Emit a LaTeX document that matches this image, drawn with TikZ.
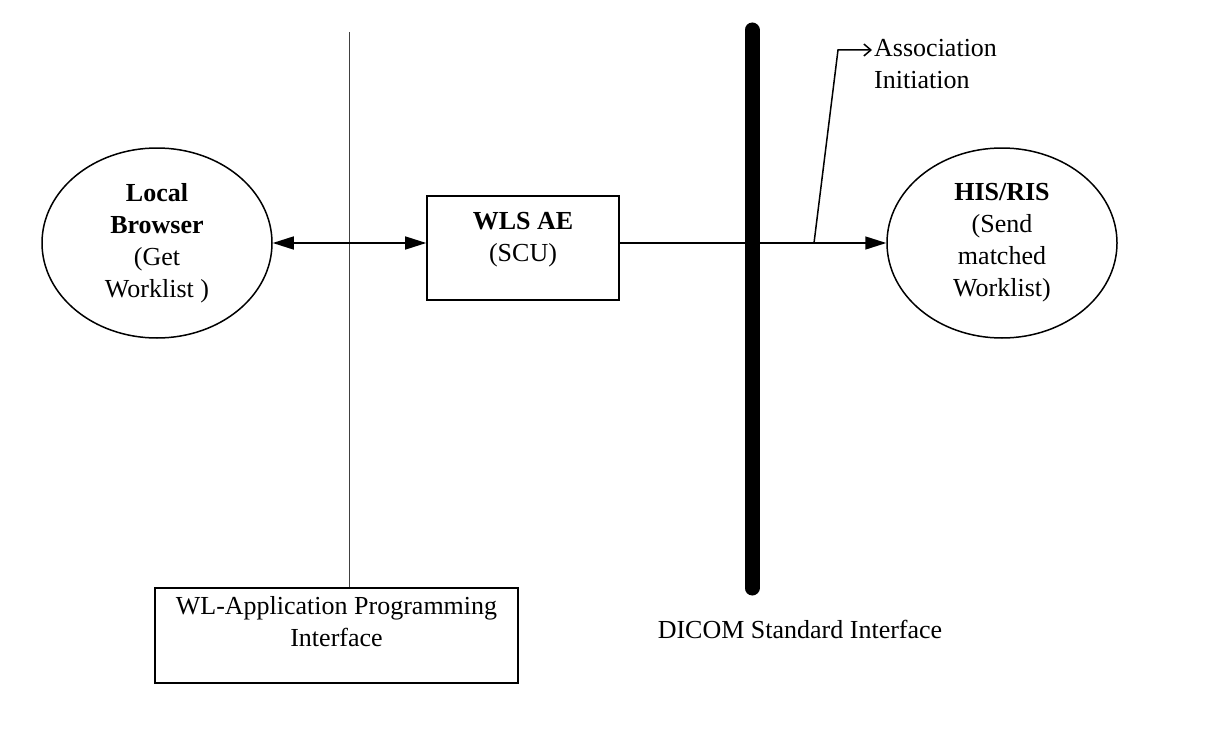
\documentclass[tikz,border=0pt]{standalone}
\usepackage{fontspec}
\setmainfont{Liberation Serif}
\usetikzlibrary{shapes.geometric,arrows.meta}
\begin{document}
\begin{tikzpicture}[x=1pt,y=-1pt,
  every node/.style={font=\fontsize{26}{32}\selectfont, inner sep=0pt},
  oval/.style={draw, line width=1.5pt, ellipse, minimum width=230pt, minimum height=190pt, align=center},
  boxshape/.style={draw, line width=1.6pt, rectangle},
  txt/.style={align=center},
  conn/.style={line width=1.5pt},
  tri/.style={-{Triangle[length=21pt,width=13pt]}},
  bitri/.style={{Triangle[length=21pt,width=13pt]}-{Triangle[length=21pt,width=13pt]}}
]
\useasboundingbox (0,0) rectangle (1222,733);

% thick DICOM interface bar
\coordinate (dtop) at (752,30);
\coordinate (dbot) at (752,588);
\draw[line width=15pt, line cap=round] (dtop) -- (dbot);

% nodes
\node[oval] (lb) at (157,243) {\textbf{Local}\\\textbf{Browser}\\(Get\\Worklist )};
\node[oval] (his) at (1002,243) {\textbf{HIS/RIS}\\(Send\\matched\\Worklist)};
\node[boxshape, minimum width=192pt, minimum height=104pt] (wls) at (523,248) {};
\node[txt] (wlst) at (523,240) {\textbf{WLS AE}\\(SCU)};
\node[boxshape, minimum width=363pt, minimum height=95pt] (api) at (336.5,635.5) {};
\node[txt] (apit) at (336.5,622) {WL-Application Programming\\Interface};
\node[anchor=base] (dicom) at (800,638) {DICOM Standard Interface};
\node[anchor=north west, align=left] (assoc) at (874,39.5) {Association\\Initiation};

% API separation line
\coordinate (apitop) at (349,32);
\draw[line width=0.8pt, black!75] (apitop) -- (apitop |- api.north);

% connectors
\draw[conn, bitri] (lb.east) -- (wls.west |- lb.east);
\draw[conn, tri] (wls.east |- his.west) -- (his.west);

% association initiation pointer
\coordinate (bend) at (814,243);
\coordinate (corner) at (838,50);
\coordinate (tip) at (872,50);
\draw[conn, -{Straight Barb[length=7pt,width=12pt]}] (bend) -- (corner) -- (tip);
\end{tikzpicture}
\end{document}
